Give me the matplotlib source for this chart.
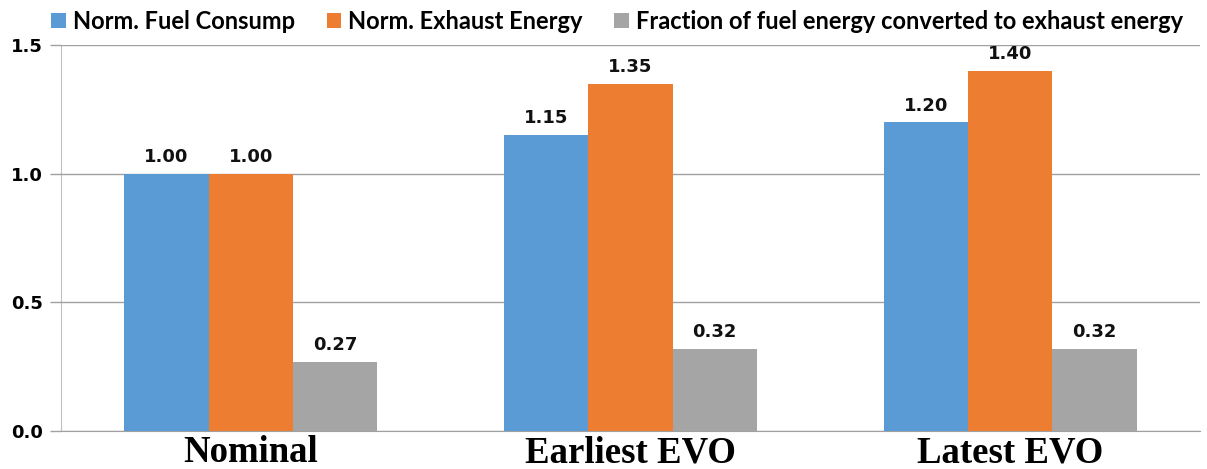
import matplotlib
matplotlib.use("Agg")
import matplotlib.pyplot as plt
import numpy as np

categories = ["Nominal", "Earliest EVO", "Latest EVO"]
series_names = ["Norm. Fuel Consump", "Norm. Exhaust Energy",
                "Fraction of fuel energy converted to exhaust energy"]
fuel = [1.00, 1.15, 1.20]
exhaust = [1.00, 1.35, 1.40]
fraction = [0.27, 0.32, 0.32]
y_ticks = [0.0, 0.5, 1.0, 1.5]
y_tick_labels = ["0.0", "0.5", "1.0", "1.5"]

colors = ["#5b9bd5", "#ed7d31", "#a5a5a5"]

fig = plt.figure(figsize=(12.07, 4.69), dpi=100)
ax = fig.add_axes([0.0505, 0.081, 0.9437, 0.823])

x = np.arange(len(categories))
width = 0.222
for i, (vals, name, col) in enumerate(zip([fuel, exhaust, fraction], series_names, colors)):
    pos = x + (i - 1) * width
    ax.bar(pos, vals, width, color=col, label=name, zorder=3)
    for px, v in zip(pos, vals):
        ax.text(px, v + 0.03, f"{v:.2f}", ha="center", va="bottom",
                fontsize=13, fontweight="bold", family="DejaVu Sans", color="#111111")

ax.set_xlim(-0.5, 2.5)
ax.set_ylim(0, 1.5)
ax.set_yticks(y_ticks)
ax.set_yticklabels(y_tick_labels, fontsize=13, fontweight="bold", family="DejaVu Sans")
ax.set_xticks(x)
ax.set_xticklabels(categories, fontsize=26.5, fontweight="bold", family="Liberation Serif")
ax.tick_params(axis="x", length=0, pad=3)
ax.tick_params(axis="y", length=8, width=1, color="#a0a0a0", pad=5)
ax.yaxis.grid(True, color="#a0a0a0", linewidth=1, zorder=0)
for side in ["top", "right"]:
    ax.spines[side].set_visible(False)
ax.spines["left"].set_color("#bfbfbf")
ax.spines["bottom"].set_color("#a0a0a0")
ax.spines["left"].set_zorder(1)

leg = fig.legend(loc="upper left", bbox_to_anchor=(0.025, 1.025), ncol=3, frameon=False,
                 prop={"family": "Lato", "weight": "bold", "size": 17.0},
                 handlelength=0.62, handleheight=0.62, handletextpad=0.3, columnspacing=1.33)

fig.savefig("out.png", dpi=100)
